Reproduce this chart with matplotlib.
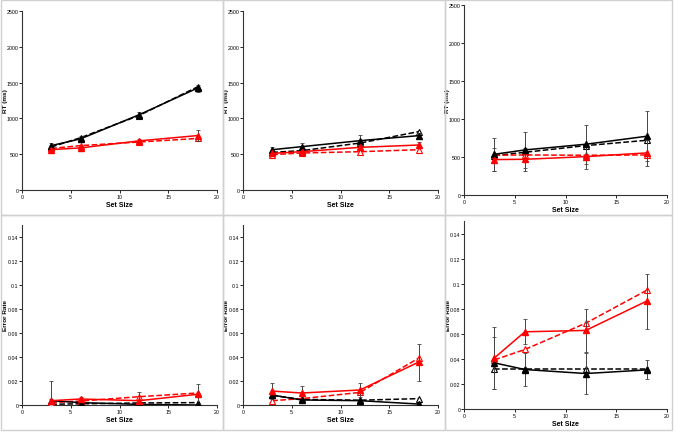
import numpy as np
import matplotlib
matplotlib.use("Agg")
import matplotlib.pyplot as plt
from matplotlib.patches import Rectangle

plt.rcParams['font.family'] = ['Liberation Sans', 'DejaVu Sans']

set_size = [3, 6, 12, 18]

# RT panels (ms): black solid, black dashed, red solid, red dashed
rt_black_solid = [[620, 714, 1050, 1423], [563, 605, 689, 759], [536, 593, 668, 773]]
rt_black_dash = [[600, 730, 1040, 1440], [526, 549, 656, 815], [518, 562, 650, 720]]
rt_red_solid = [[564, 588, 686, 760], [512, 535, 596, 628], [466, 470, 505, 554]]
rt_red_dash = [[580, 620, 670, 720], [493, 517, 535, 563], [523, 527, 523, 527]]
rt_black_err = [[30, 40, 35, 50], [35, 45, 85, 40], [220, 240, 255, 330]]
rt_red_err = [[25, 30, 30, 75], [25, 25, 35, 40], [150, 154, 160, 176]]

# error rate panels
er_black_solid = [[0.0036, 0.002, 0.0005, 0.0], [0.0083, 0.0042, 0.0036, 0.0008], [0.0368, 0.0315, 0.0283, 0.0312]]
er_black_dash = [[0.0006, 0.001, 0.0017, 0.002], [0.008, 0.0047, 0.004, 0.0053], [0.032, 0.032, 0.032, 0.032]]
er_red_solid = [[0.0036, 0.005, 0.0036, 0.0089], [0.0116, 0.010, 0.0125, 0.0357], [0.0408, 0.0616, 0.0627, 0.0861]]
er_red_dash = [[0.002, 0.0033, 0.0069, 0.010], [0.0036, 0.0053, 0.0105, 0.039], [0.0392, 0.0475, 0.0685, 0.0947]]
er_black_err = [[0.001, 0.001, 0.001, 0.001], [0.002, 0.001, 0.001, 0.001], [0.021, 0.013, 0.016, 0.0075]]
er_red_err = [[0.016, 0.002, 0.007, 0.009], [0.007, 0.0055, 0.0055, 0.0155], [0.025, 0.01, 0.017, 0.022]]

W, H = 677, 439
fig = plt.figure(figsize=(W / 100, H / 100), dpi=100)

# panel frames (pixels: x0, y0, x1, y1 from top-left)
frames = [(1, 1, 223, 216), (223, 1, 445, 216), (445, 1, 672, 216),
          (1, 216, 223, 431), (223, 216, 445, 431), (445, 216, 672, 431)]
for x0, y0, x1, y1 in frames:
    fig.patches.append(Rectangle((x0 / W, 1 - y1 / H), (x1 - x0) / W, (y1 - y0) / H,
                                 transform=fig.transFigure, fill=False,
                                 edgecolor='#d0d0d0', lw=1.0))

# axes boxes in pixels: x0, x1, y_top, y_bottom, ylabel x
boxes_rt = [(22, 217, 12, 191, 6), (243, 438, 12, 191, 226.5), (464, 667, 6, 196, 448)]
boxes_er = [(22, 217, 226, 406, 6), (243, 438, 226, 406, 226.5), (464, 667, 222, 410, 448)]


def make_ax(box):
    x0, x1, yt, yb, lx = box
    ax = fig.add_axes([x0 / W, 1 - yb / H, (x1 - x0) / W, (yb - yt) / H])
    ax.spines['top'].set_visible(False)
    ax.spines['right'].set_visible(False)
    for s in ('left', 'bottom'):
        ax.spines[s].set_linewidth(0.8)
        ax.spines[s].set_color('#333333')
    ax.tick_params(direction='out', length=2, width=0.6, labelsize=3.8, pad=1)
    ax.tick_params(axis='y', pad=0.6)
    ax.set_xlim(0, 20)
    ax.set_xticks([0, 5, 10, 15, 20])
    ax.yaxis.set_label_coords((lx - x0) / (x1 - x0), 0.5)
    ax.patch.set_alpha(0)
    return ax


def draw(ax, bs, bd, rs, rd, be, re):
    ax.plot(set_size, bd, color='black', ls='--', lw=1.1, marker='^', ms=4.8,
            mfc='white', mec='black', mew=0.8, zorder=3)
    ax.plot(set_size, rd, color='red', ls='--', lw=1.1, marker='^', ms=4.8,
            mfc='white', mec='red', mew=0.8, zorder=3)
    ax.errorbar(set_size, bs, yerr=be, color='black', lw=1.1, marker='^', ms=4.8,
                ecolor='#444444', elinewidth=0.7, capsize=1.5, capthick=0.6, zorder=4)
    ax.errorbar(set_size, rs, yerr=re, color='red', lw=1.1, marker='^', ms=4.8,
                ecolor='#444444', elinewidth=0.7, capsize=1.5, capthick=0.6, zorder=4)
    ax.set_xlabel('Set Size', fontsize=5, fontweight='bold', labelpad=1)


for i in range(3):
    ax = make_ax(boxes_rt[i])
    draw(ax, rt_black_solid[i], rt_black_dash[i], rt_red_solid[i], rt_red_dash[i],
         rt_black_err[i], rt_red_err[i])
    ax.set_ylim(0, 2500)
    ax.set_yticks([0, 500, 1000, 1500, 2000, 2500])
    ax.set_ylabel('RT (ms)', fontsize=4.6, fontweight='bold', va='center')

for i in range(3):
    ax = make_ax(boxes_er[i])
    draw(ax, er_black_solid[i], er_black_dash[i], er_red_solid[i], er_red_dash[i],
         er_black_err[i], er_red_err[i])
    ax.set_ylim(0, 0.15)
    ax.set_yticks([0, 0.02, 0.04, 0.06, 0.08, 0.1, 0.12, 0.14])
    ax.set_yticklabels(['0', '0.02', '0.04', '0.06', '0.08', '0.1', '0.12', '0.14'])
    ax.set_ylabel('Error Rate', fontsize=4.6, fontweight='bold', va='center')

fig.savefig('out.png', dpi=100)
